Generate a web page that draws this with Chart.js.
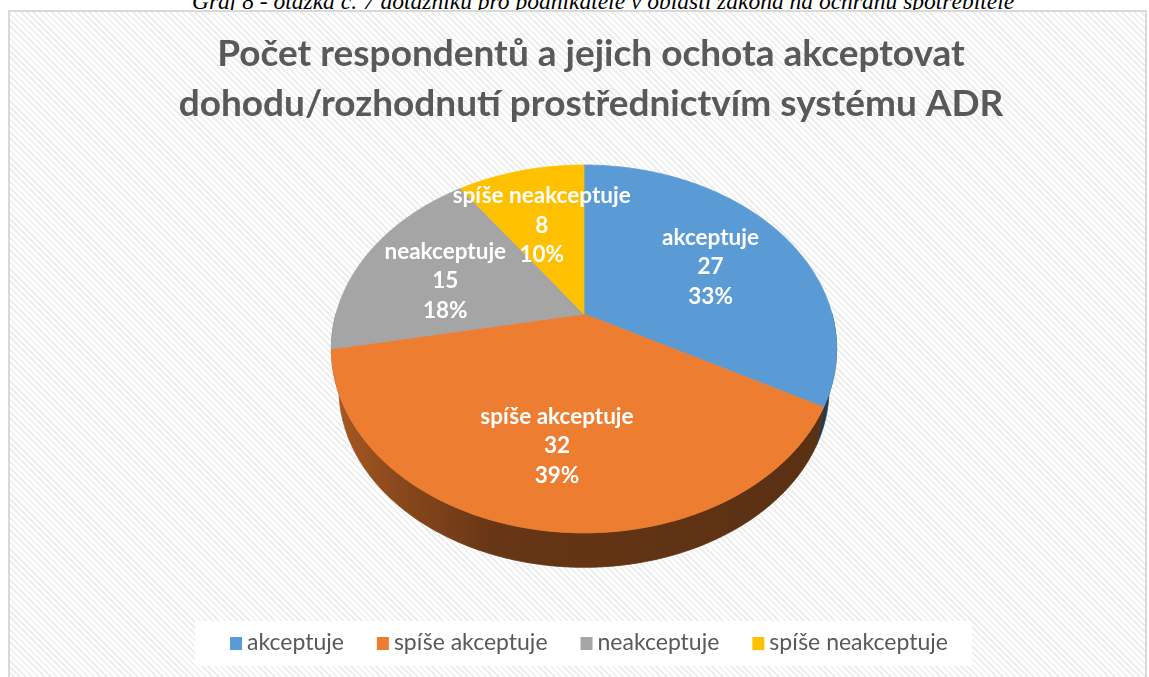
<!DOCTYPE html>
<html>
<head>
<meta charset="utf-8">
<script src="https://cdn.jsdelivr.net/npm/chart.js@4.4.1/dist/chart.umd.min.js"></script>
<style>
html,body{margin:0;padding:0;width:1149px;height:677px;overflow:hidden;background:#fff;}
#cap{position:absolute;left:0;top:-10px;width:1206px;text-align:center;font:italic 23.5px "Liberation Serif";line-height:22px;color:#000;white-space:nowrap;}
#frame{position:absolute;left:8px;top:10px;width:1139px;height:720px;border:2px solid #d9d9d9;box-sizing:border-box;
  background:repeating-linear-gradient(45deg,#ffffff 0px,#ffffff 2.6px,#eeeeee 2.6px,#eeeeee 4.4px);}
canvas{position:absolute;left:0;top:0;}
</style>
</head>
<body>
<div id="cap">Graf 8 - otázka č. 7 dotazníku pro podnikatele v oblasti zákona na ochranu spotřebitele</div>
<div id="frame"></div>
<canvas id="c" width="1149" height="677"></canvas>
<script>
// ---- data ----
const categories = ['akceptuje', 'spíše akceptuje', 'neakceptuje', 'spíše neakceptuje'];
const counts = [27, 32, 15, 8];
const sliceColors = ['#5b9bd5', '#ed7d31', '#a5a5a5', '#ffc000'];
const titleLines = ['Počet respondentů a jejich ochota akceptovat', 'dohodu/rozhodnutí prostřednictvím systému ADR'];

// ---- 3D look (style only) ----
const PERSP = 0.19, YRATIO = 0.715, DEPTH = 41, BSCALE = 0.97;
const FONT = 'Lato';

function shade(hex, f) {
  const n = parseInt(hex.slice(1), 16);
  const r = Math.round(((n >> 16) & 255) * f), g = Math.round(((n >> 8) & 255) * f), b = Math.round((n & 255) * f);
  return `rgb(${r},${g},${b})`;
}
function proj(el, a, r, bottom) {
  const u = r * Math.cos(a), v = r * Math.sin(a);
  const d = 1 - PERSP * v;
  const s = bottom ? BSCALE : 1;
  return {
    x: el.x + s * el.outerRadius * u / d,
    y: el.y + (bottom ? DEPTH : 0) + s * el.outerRadius * YRATIO * v / d
  };
}

const pie3d = {
  id: 'pie3d',
  beforeDatasetDraw(chart, args) {
    const ctx = chart.ctx;
    const els = args.meta.data;
    const N = 120;
    ctx.save();
    // side walls (front half only)
    els.forEach((el, i) => {
      const a1 = Math.max(el.startAngle, 0), a2 = Math.min(el.endAngle, Math.PI);
      if (a2 <= a1) return;
      const col = el.options.backgroundColor;
      const R = el.outerRadius;
      const g = ctx.createLinearGradient(el.x - R, 0, el.x + R, 0);
      g.addColorStop(0, shade(col, 0.70));
      g.addColorStop(0.15, shade(col, 0.56));
      g.addColorStop(0.32, shade(col, 0.43));
      g.addColorStop(1, shade(col, 0.38));
      ctx.beginPath();
      for (let k = 0; k <= N; k++) {
        const p = proj(el, a1 + (a2 - a1) * k / N, 1, false);
        k ? ctx.lineTo(p.x, p.y) : ctx.moveTo(p.x, p.y);
      }
      for (let k = N; k >= 0; k--) {
        const p = proj(el, a1 + (a2 - a1) * k / N, 1, true);
        ctx.lineTo(p.x, p.y);
      }
      ctx.closePath();
      ctx.fillStyle = g;
      ctx.strokeStyle = g;
      ctx.lineWidth = 0.8;
      ctx.fill();
      ctx.stroke();
    });
    // top faces
    els.forEach((el) => {
      const col = el.options.backgroundColor;
      ctx.beginPath();
      ctx.moveTo(el.x, el.y);
      for (let k = 0; k <= N; k++) {
        const p = proj(el, el.startAngle + (el.endAngle - el.startAngle) * k / N, 1, false);
        ctx.lineTo(p.x, p.y);
      }
      ctx.closePath();
      ctx.fillStyle = col;
      ctx.strokeStyle = col;
      ctx.lineWidth = 0.8;
      ctx.fill();
      ctx.stroke();
    });
    // data labels
    const total = counts.reduce((s, v) => s + v, 0);
    ctx.fillStyle = '#ffffff';
    ctx.font = `bold 22.5px ${FONT}`;
    ctx.textAlign = 'center';
    ctx.textBaseline = 'middle';
    els.forEach((el, i) => {
      const mid = (el.startAngle + el.endAngle) / 2;
      const p = proj(el, mid, 0.63, false);
      const cy = p.y + 7;
      const lines = [chart.data.labels[i], String(counts[i]), Math.round(counts[i] / total * 100) + '%'];
      lines.forEach((t, j) => ctx.fillText(t, p.x, cy + (j - 1) * 29.5));
    });
    ctx.restore();
    return false;
  }
};

const deco = {
  id: 'deco',
  afterDraw(chart) {
    const ctx = chart.ctx;
    ctx.save();
    // title
    ctx.fillStyle = '#595959';
    ctx.font = `bold 37px ${FONT}`;
    ctx.textAlign = 'center';
    ctx.textBaseline = 'alphabetic';
    ctx.fillText(titleLines[0], 591, 66);
    ctx.fillText(titleLines[1], 591, 116);
    // legend
    ctx.font = `23px ${FONT}`;
    const box = 12, gapBT = 5, gapItem = 33;
    const widths = chart.data.labels.map(t => ctx.measureText(t).width);
    const total = widths.reduce((s, w) => s + box + gapBT + w, 0) + gapItem * (widths.length - 1);
    const cx = 589, cy = 643;
    ctx.fillStyle = '#ffffff';
    ctx.fillRect(cx - total / 2 - 35, 621, total + 59, 45);
    let x = cx - total / 2;
    ctx.textBaseline = 'middle';
    ctx.textAlign = 'left';
    chart.data.labels.forEach((t, i) => {
      ctx.fillStyle = chart.data.datasets[0].backgroundColor[i];
      ctx.fillRect(x, cy - 6, box, box + 1);
      ctx.fillStyle = '#595959';
      ctx.fillText(t, x + box + gapBT, cy);
      x += box + gapBT + widths[i] + gapItem;
    });
    ctx.restore();
  }
};

new Chart(document.getElementById('c'), {
  type: 'pie',
  data: {
    labels: categories,
    datasets: [{ data: counts, backgroundColor: sliceColors, borderWidth: 0 }]
  },
  options: {
    responsive: false,
    animation: false,
    devicePixelRatio: 1,
    layout: { padding: { left: 336, right: 317, top: 66, bottom: 115 } },
    plugins: { legend: { display: false }, tooltip: { enabled: false }, title: { display: false } }
  },
  plugins: [pie3d, deco]
});
</script>
</body>
</html>
